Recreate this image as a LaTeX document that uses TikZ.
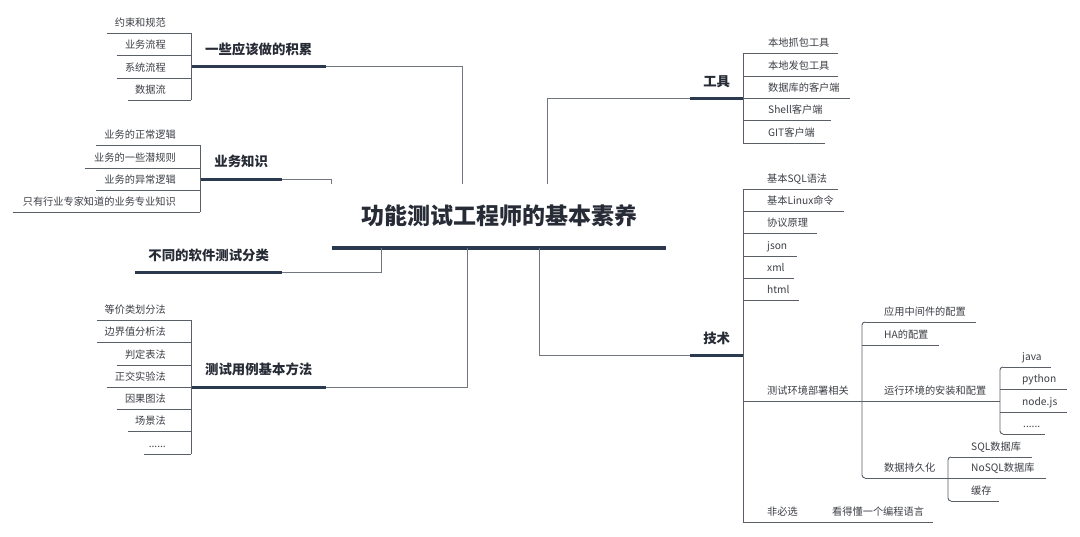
\documentclass[tikz,border=0pt]{standalone}
\usepackage{fontspec}
\setmainfont{Noto Sans CJK SC}
\newfontfamily\cjk{Noto Sans CJK SC}
\definecolor{cNavy}{HTML}{2C3A4F}
\definecolor{cConn}{HTML}{72777F}
\definecolor{cLine}{HTML}{5A5F68}
\definecolor{cLeaf}{HTML}{3C3F45}
\definecolor{cHead}{HTML}{262B35}
\newcommand\leafr[3]{\makebox[#1pt][l]{\hspace*{#2pt}#3}}
\newcommand\leafl[3]{\makebox[#1pt][r]{#3\hspace*{#2pt}}}
\tikzset{
  ulline/.style={draw=cLine, line width=0.9pt},
  barline/.style={draw=cNavy, line width=3pt},
  rootbar/.style={draw=cNavy, line width=4pt},
  conn/.style={draw=cConn, line width=1pt},
  leafbase/.style={inner xsep=0pt, inner ysep=6pt, text depth=0pt, text=cLeaf,
    font=\cjk\fontsize{10.2}{12}\selectfont,
    append after command={(\tikzlastnode.south west) edge[ulline] (\tikzlastnode.south east)}},
  leafR/.style={leafbase, anchor=south west},
  leafL/.style={leafbase, anchor=south east},
  branch/.style={anchor=south west, inner sep=0pt, text=cHead,
    font=\cjk\bfseries\fontsize{13.4}{16}\selectfont,
    append after command={(\tikzlastnode.south west) edge[barline] (\tikzlastnode.south east)}},
  rootnode/.style={inner sep=0pt, minimum width=334pt, minimum height=64pt, text=cHead,
    font=\cjk\bfseries\fontsize{23}{28}\selectfont,
    append after command={(\tikzlastnode.south west) edge[rootbar] (\tikzlastnode.south east)}}
}
\begin{document}
\begin{tikzpicture}[x=1pt,y=-1pt]
\useasboundingbox (0,0) rectangle (1080,536);
\fill[white] (0,0) rectangle (1080,536);

% root
\node[rootnode] (root) at (499,216) {功能测试工程师的基本素养};

% branches
\node[branch, minimum width=135pt, minimum height=32pt] (b1) at (191,66) {一些应该做的积累};
\node[branch, minimum width=82pt, minimum height=34pt] (b2) at (200,179) {业务知识};
\node[branch, minimum width=147pt, minimum height=32pt] (b3) at (135,272) {不同的软件测试分类};
\node[branch, minimum width=135pt, minimum height=34pt] (b4) at (191,387) {测试用例基本方法};
\node[branch, minimum width=53pt, minimum height=32pt] (b5) at (690,98) {工具};
\node[branch, minimum width=53pt, minimum height=32pt] (b6) at (690,355) {技术};

% root connectors
\draw[conn] (b1.south east) -| ([xshift=131pt]root.north west);
\draw[conn] (b2.south east) -| (root.north west);
\draw[conn] (b3.south east) -| ([xshift=50pt]root.south west);
\draw[conn] (b4.south east) -| ([xshift=136pt]root.south west);
\draw[conn] (b5.south west) -| ([xshift=216pt]root.north west);
\draw[conn] (b6.south west) -| ([xshift=208pt]root.south west);

% group 1
\node[leafL] (a1) at (191,33) {\leafl{84}{25}{约束和规范}};
\node[leafL] (a2) at (191,55) {\leafl{74}{25}{业务流程}};
\node[leafL] (a3) at (191,78) {\leafl{74}{25}{系统流程}};
\node[leafL] (a4) at (191,100) {\leafl{63}{25}{数据流}};
\draw[ulline] (a1.south east) -- (a4.south east);

% group 2
\node[leafL] (c1) at (200,145) {\leafl{104}{24}{业务的正常逻辑}};
\node[leafL] (c2) at (200,168) {\leafl{115}{24}{业务的一些潜规则}};
\node[leafL] (c3) at (200,190) {\leafl{104}{24}{业务的异常逻辑}};
\node[leafL] (c4) at (200,212) {\leafl{187}{24}{只有行业专家知道的业务专业知识}};
\draw[ulline] (c1.south east) -- (c4.south east);

% group 4
\node[leafL] (d1) at (191,320) {\leafl{94}{25}{等价类划分法}};
\node[leafL] (d2) at (191,342) {\leafl{94}{25}{边界值分析法}};
\node[leafL] (d3) at (191,365) {\leafl{74}{25}{判定表法}};
\node[leafL] (d4) at (191,387) {\leafl{84}{25}{正交实验法}};
\node[leafL] (d5) at (191,409) {\leafl{74}{25}{因果图法}};
\node[leafL] (d6) at (191,431) {\leafl{63}{25}{场景法}};
\node[leafL] (d7) at (191,454) {\leafl{47}{25}{......}};
\draw[ulline] (d1.south east) -- (d7.south east);

% tools
\node[leafR] (t1) at (743,53) {\leafr{95}{25}{本地抓包工具}};
\node[leafR] (t2) at (743,76) {\leafr{95}{25}{本地发包工具}};
\node[leafR] (t3) at (743,98) {\leafr{107}{25}{数据库的客户端}};
\node[leafR] (t4) at (743,120) {\leafr{88}{25}{Shell客户端}};
\node[leafR] (t5) at (743,143) {\leafr{82}{25}{GIT客户端}};
\draw[ulline] (t1.south west) -- (t5.south west);

% tech
\node[leafR] (k1) at (743,189) {\leafr{95}{24}{基本SQL语法}};
\node[leafR] (k2) at (743,211) {\leafr{101}{24}{基本Linux命令}};
\node[leafR] (k3) at (743,233) {\leafr{74}{24}{协议原理}};
\node[leafR] (k4) at (743,256) {\leafr{54}{24}{json}};
\node[leafR] (k5) at (743,278) {\leafr{51}{24}{xml}};
\node[leafR] (k6) at (743,300) {\leafr{56}{24}{html}};
\node[leafR] (e1) at (743,401) {\leafr{119}{24}{测试环境部署相关}};
\node[leafR] (n1) at (743,522) {\leafr{65}{24}{非必选}};
\node[leafR] (n2) at (808,522) {\leafr{125}{24}{看得懂一个编程语言}};
\draw[ulline] (k1.south west) -- (n1.south west);

% test env
\node[leafR] (m1) at (865,322) {\leafr{111}{19}{应用中间件的配置}};
\node[leafR] (m2) at (862,345) {\leafr{77}{22}{HA的配置}};
\node[leafR] (m3) at (862,401) {\leafr{138}{22}{运行环境的安装和配置}};
\node[leafR] (m4) at (865,478) {\leafr{83}{19}{数据持久化}};
\draw[ulline, rounded corners=3pt] (m1.south west) -- ++(-3,0) |- (m4.south west);

% runtimes
\node[leafR] (j1) at (1003,367) {\leafr{48}{19}{java}};
\node[leafR] (j2) at (1000,389) {\leafr{67}{22}{python}};
\node[leafR] (j3) at (1000,412) {\leafr{67}{22}{node.js}};
\node[leafR] (j4) at (1003,434) {\leafr{42}{20}{......}};
\draw[ulline, rounded corners=3pt] (j1.south west) -- ++(-3,0) |- (j4.south west);

% persistence
\node[leafR] (s1) at (951,457) {\leafr{81}{20}{SQL数据库}};
\node[leafR] (s2) at (948,478) {\leafr{98}{23}{NoSQL数据库}};
\node[leafR] (s3) at (951,501) {\leafr{48}{20}{缓存}};
\draw[ulline, rounded corners=3pt] (s1.south west) -- ++(-3,0) |- (s3.south west);
\end{tikzpicture}
\end{document}
